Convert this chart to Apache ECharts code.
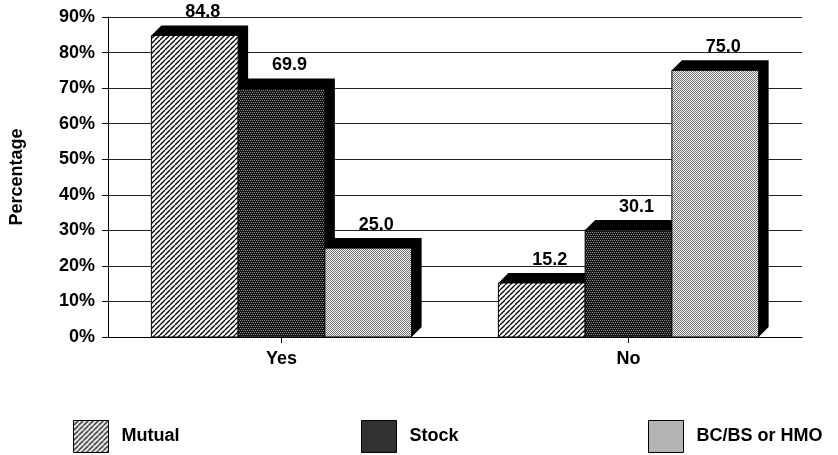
<!DOCTYPE html>
<html>
<head>
<meta charset="utf-8">
<script src="https://cdn.jsdelivr.net/npm/echarts@6/dist/echarts.min.js"></script>
<style>
  html, body { margin: 0; padding: 0; background: #fff; }
  #chart { width: 838px; height: 455px; }
</style>
</head>
<body>
<div id="chart"></div>
<script>
// Data
const categories = ['Yes', 'No'];
const seriesNames = ['Mutual', 'Stock', 'BC/BS or HMO'];
const mutualValues = [84.8, 15.2];
const stockValues = [69.9, 30.1];
const bcbsValues = [25.0, 75.0];
const yTickValues = [0, 10, 20, 30, 40, 50, 60, 70, 80, 90];

const FONT = '"Liberation Sans", Arial, Helvetica, sans-serif';

// Fill patterns for the bars
function hatchPattern() {
  const s = 5;
  const c = document.createElement('canvas');
  c.width = s; c.height = s;
  const g = c.getContext('2d');
  g.fillStyle = '#fff';
  g.fillRect(0, 0, s, s);
  g.strokeStyle = '#000';
  g.lineWidth = 1.3;
  for (let k = -1; k <= 1; k++) {
    g.beginPath();
    g.moveTo(k * s, s);
    g.lineTo(k * s + s, 0);
    g.stroke();
  }
  return { image: c, repeat: 'repeat' };
}
function darkStipple() {
  const c = document.createElement('canvas');
  c.width = 4; c.height = 4;
  const g = c.getContext('2d');
  g.fillStyle = '#141414';
  g.fillRect(0, 0, 4, 4);
  g.fillStyle = '#8a8a8a';
  [[0, 0], [2, 0], [1, 2], [3, 2]].forEach(p => g.fillRect(p[0], p[1], 1, 1));
  return { image: c, repeat: 'repeat' };
}
function lightStipple() {
  const c = document.createElement('canvas');
  c.width = 2; c.height = 2;
  const g = c.getContext('2d');
  g.fillStyle = '#f4f4f4';
  g.fillRect(0, 0, 2, 2);
  g.fillStyle = '#747474';
  g.fillRect(0, 0, 1, 1);
  g.fillRect(1, 1, 1, 1);
  return { image: c, repeat: 'repeat' };
}
const fills = [hatchPattern(), darkStipple(), lightStipple()];

const DEPTH = 10;
const GROUP_FILL = 0.75; // share of each category band covered by the bars

// Bar with a solid black extrusion drawn behind it (up and to the right)
function makeRender(idx) {
  return function (params, api) {
    const cat = api.value(0);
    const val = api.value(1);
    const basePt = api.coord([cat, 0]);
    const topPt = api.coord([cat, val]);
    const band = api.size([1, 0])[0];
    const barW = band * GROUP_FILL / 3;
    const x0 = basePt[0] - 1.5 * barW + idx * barW;
    const x1 = x0 + barW;
    const base = basePt[1];
    const top = topPt[1];
    const d = DEPTH;
    return {
      type: 'group',
      children: [
        {
          type: 'polygon',
          shape: { points: [[x0, top], [x0 + d, top - d], [x1 + d, top - d], [x1 + d, base - d], [x1, base]] },
          style: { fill: '#000' }
        },
        {
          type: 'rect',
          shape: { x: x0, y: top, width: barW, height: base - top },
          style: { fill: fills[idx], stroke: '#000', lineWidth: 1 }
        },
        {
          type: 'text',
          style: {
            text: val.toFixed(1),
            x: (x0 + x1) / 2 + 8,
            y: top - d - 4,
            align: 'center',
            verticalAlign: 'bottom',
            font: 'bold 18px ' + FONT,
            fill: '#000'
          }
        }
      ]
    };
  };
}

const valueLists = [mutualValues, stockValues, bcbsValues];
const series = seriesNames.map((name, i) => ({
  name: name,
  type: 'custom',
  renderItem: makeRender(i),
  encode: { x: 0, y: 1 },
  itemStyle: { color: fills[i], borderColor: '#000', borderWidth: 1 },
  data: categories.map((c, j) => [j, valueLists[i][j]])
}));

const legendLefts = [73, 361, 648];
const legends = seriesNames.map((name, i) => ({
  data: [name],
  left: legendLefts[i],
  top: 420,
  padding: 0,
  icon: 'rect',
  itemWidth: 35,
  itemHeight: 32,
  selectedMode: false,
  itemStyle: { color: fills[i], borderColor: '#000', borderWidth: 1 },
  textStyle: { fontFamily: FONT, fontWeight: 'bold', fontSize: 18, color: '#000', padding: [0, 0, 0, 8] }
}));

const chart = echarts.init(document.getElementById('chart'), null, { renderer: 'canvas' });
chart.setOption({
  backgroundColor: '#fff',
  animation: false,
  grid: { left: 108, right: 36, top: 17, bottom: 118 },
  legend: legends,
  xAxis: {
    type: 'category',
    data: categories,
    axisLine: { show: true, lineStyle: { color: '#000', width: 1 } },
    axisTick: { show: true, alignWithLabel: true, length: 6, lineStyle: { color: '#000' } },
    axisLabel: { fontFamily: FONT, fontWeight: 'bold', fontSize: 18, color: '#000', margin: 13 },
    splitLine: { show: false }
  },
  yAxis: {
    type: 'value',
    min: yTickValues[0],
    max: yTickValues[yTickValues.length - 1],
    interval: yTickValues[1] - yTickValues[0],
    name: 'Percentage',
    nameLocation: 'middle',
    nameGap: 82,
    nameTextStyle: { fontFamily: FONT, fontWeight: 'bold', fontSize: 18, color: '#000' },
    axisLine: { show: true, lineStyle: { color: '#000', width: 1 } },
    axisTick: { show: true, length: 6, lineStyle: { color: '#000' } },
    axisLabel: { formatter: '{value}%', fontFamily: FONT, fontWeight: 'bold', fontSize: 18, color: '#000', margin: 13 },
    splitLine: { show: true, lineStyle: { color: '#222', width: 1 } }
  },
  series: series
});
</script>
</body>
</html>
